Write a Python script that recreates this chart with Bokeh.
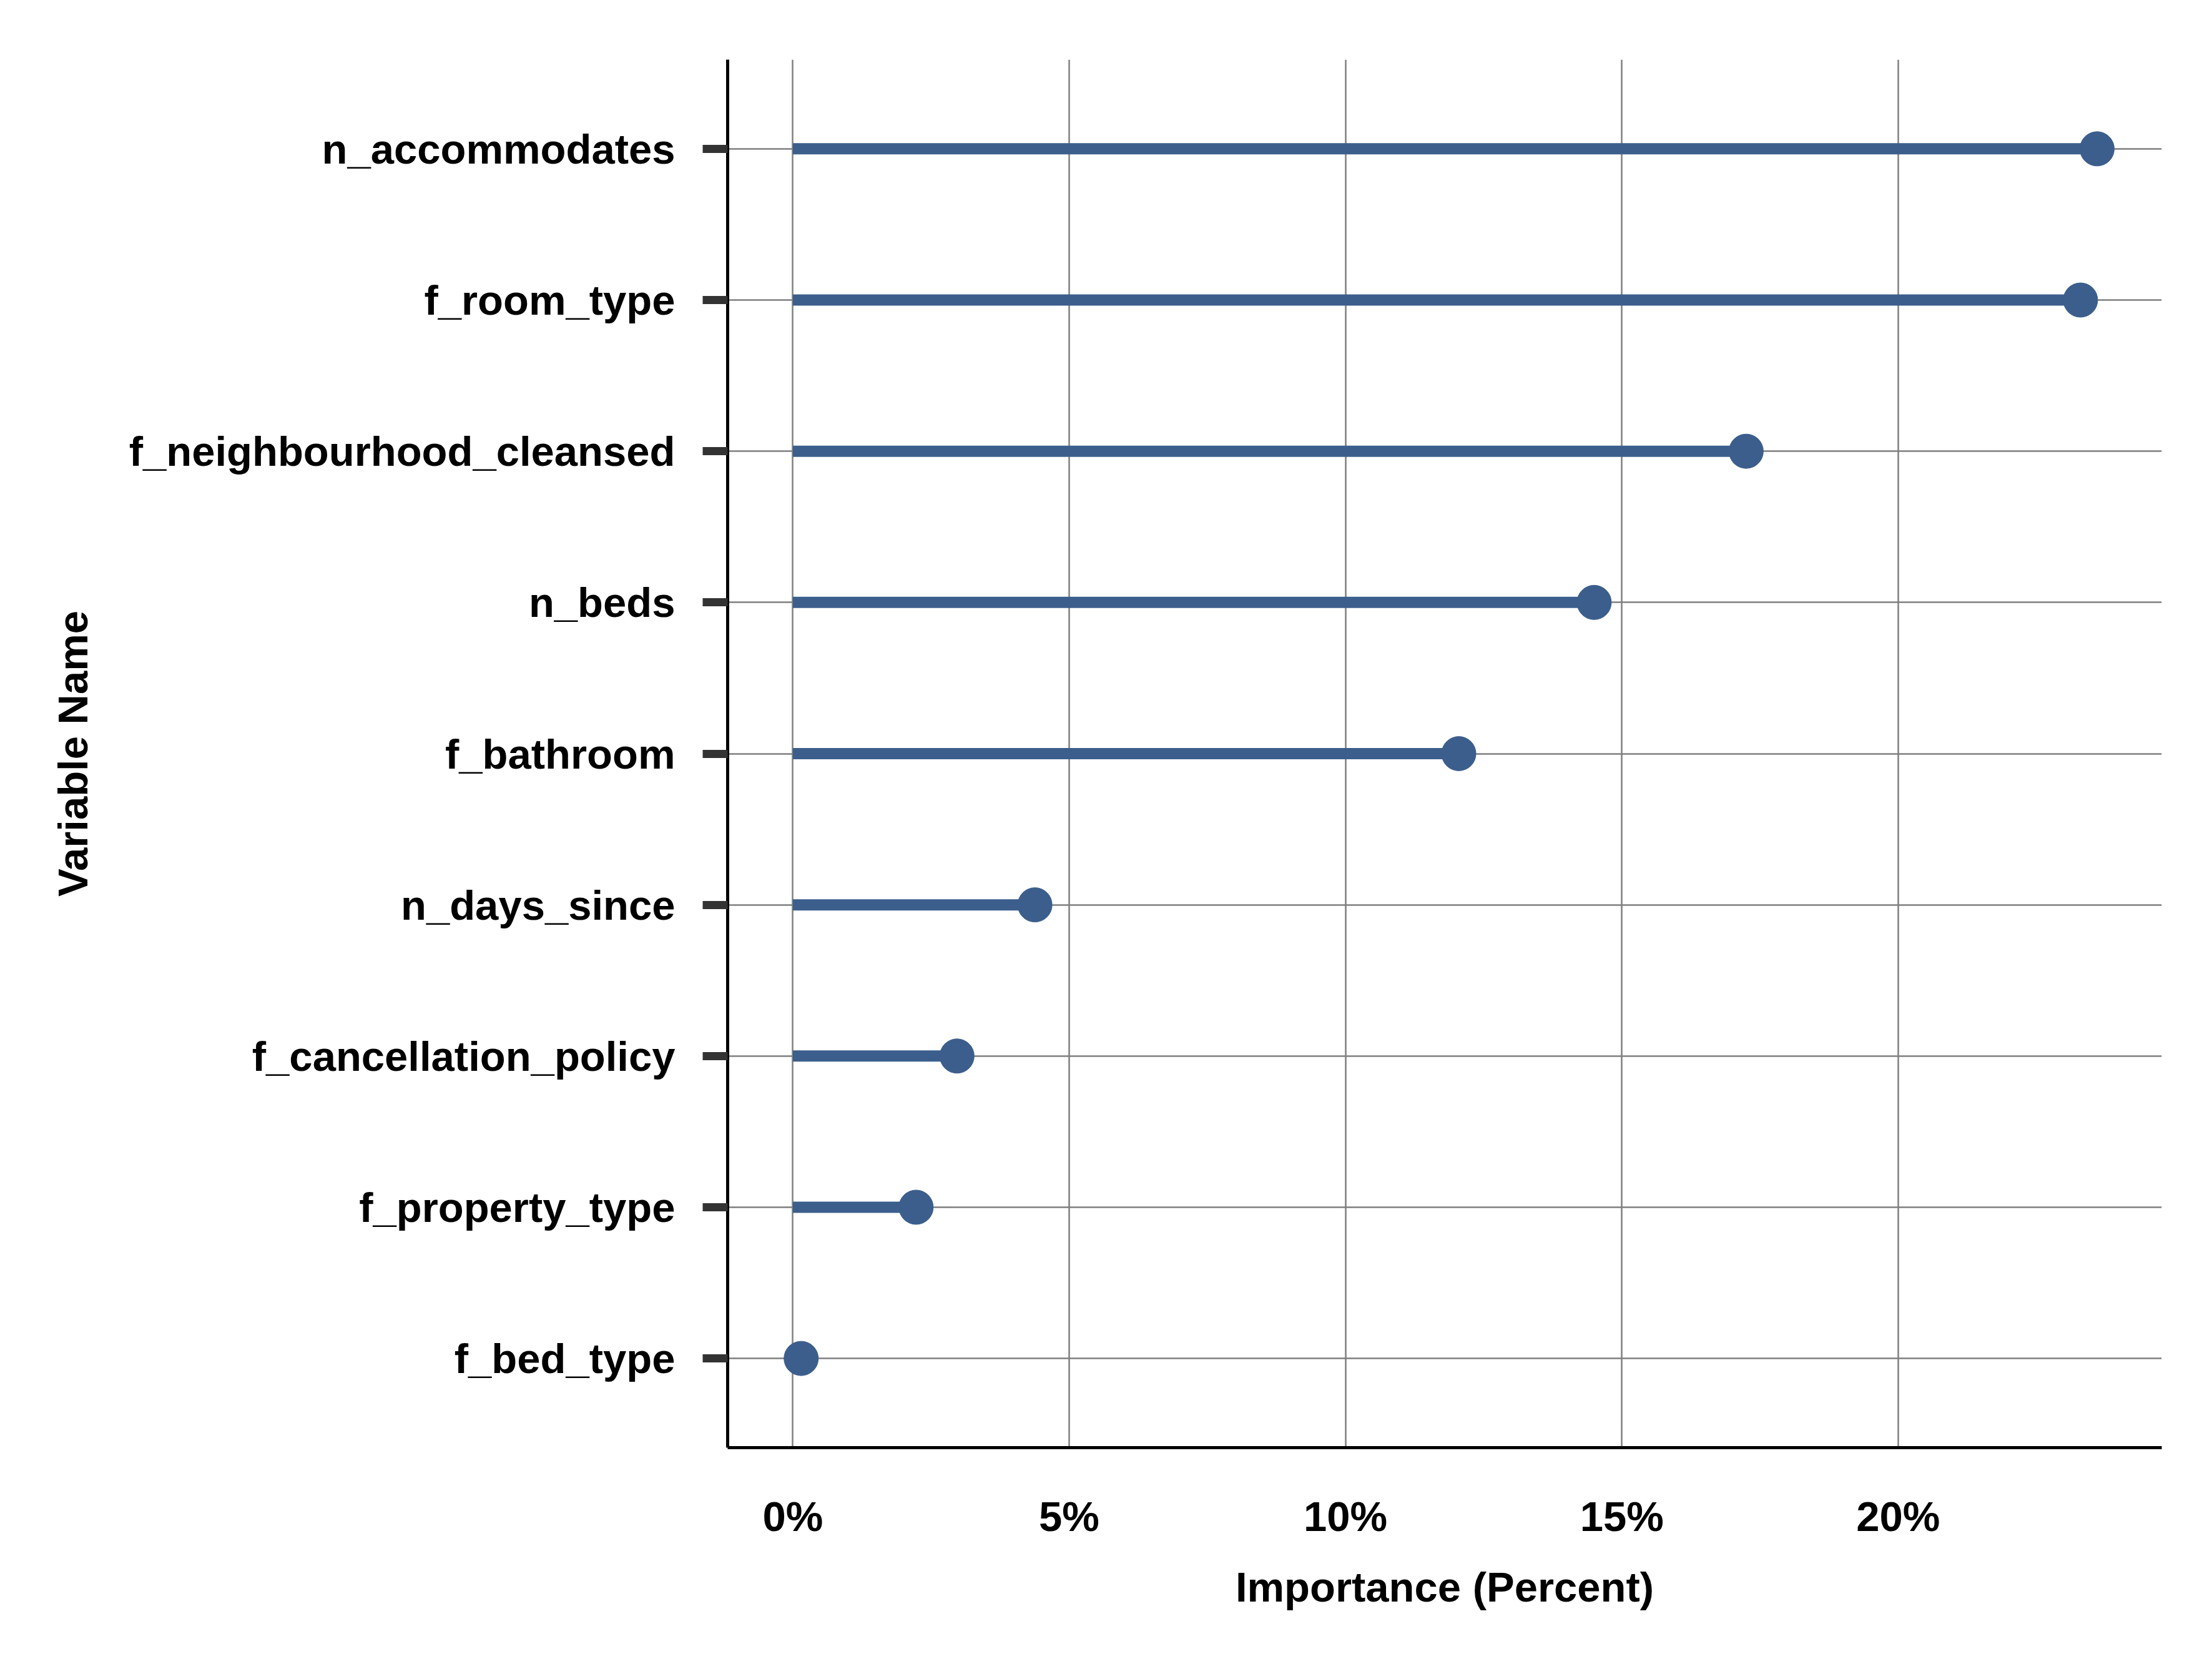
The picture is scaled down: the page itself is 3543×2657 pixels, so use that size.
from bokeh.plotting import figure
from bokeh.models import FixedTicker, Range1d, ColumnDataSource
from bokeh.embed import file_html
from bokeh.resources import INLINE

variables = ["n_accommodates", "f_room_type", "f_neighbourhood_cleansed", "n_beds",
             "f_bathroom", "n_days_since", "f_cancellation_policy", "f_property_type", "f_bed_type"]
importance = [23.6, 23.3, 17.25, 14.5, 12.05, 4.38, 2.97, 2.23, 0.15]
xticks = [0, 5, 10, 15, 20]

n = len(variables)
ypos = [n - i for i in range(n)]
src = ColumnDataSource(dict(y=ypos, x=importance, x0=[0]*n))

p = figure(width=3520, height=2640, output_backend="svg", toolbar_location=None,
           x_range=Range1d(-1.18, 24.77), y_range=Range1d(0.41, n + 0.59),
           min_border_left=1165, min_border_right=58, min_border_top=95, min_border_bottom=322)
p.outline_line_color = None
p.background_fill_color = "white"

p.segment(x0="x0", y0="y", x1="x", y1="y", source=src, line_width=18, line_color="#3b5e8c")
p.scatter(x="x", y="y", source=src, size=55, fill_color="#3b5e8c", line_color="#3b5e8c")

font = "Liberation Sans"
p.xaxis.ticker = FixedTicker(ticks=xticks)
p.xaxis.major_label_overrides = {t: f"{t}%" for t in xticks}
p.yaxis.ticker = FixedTicker(ticks=ypos)
p.yaxis.major_label_overrides = {y: v for y, v in zip(ypos, variables)}

for ax in (p.xaxis[0], p.yaxis[0]):
    ax.axis_line_color = "black"
    ax.axis_line_width = 5
    ax.minor_tick_line_color = None
    ax.major_label_text_font = font
    ax.major_label_text_font_style = "bold"
    ax.major_label_text_font_size = "67px"
    ax.major_label_text_color = "black"
    ax.axis_label_text_font = font
    ax.axis_label_text_font_style = "bold"
    ax.axis_label_text_font_size = "67px"
    ax.axis_label_text_color = "black"

p.xaxis.major_tick_line_color = None
p.xaxis.major_label_standoff = 66
p.xaxis.axis_label = "Importance (Percent)"
p.xaxis.axis_label_standoff = 35
p.yaxis.major_tick_line_color = "#333333"
p.yaxis.major_tick_line_width = 13
p.yaxis.major_tick_out = 40
p.yaxis.major_tick_in = 0
p.yaxis.major_label_standoff = 44
p.yaxis.axis_label = "Variable Name"
p.yaxis.axis_label_standoff = 50

p.xgrid.grid_line_color = "#7f7f7f"
p.ygrid.grid_line_color = "#7f7f7f"
p.xgrid.grid_line_width = 2.5
p.ygrid.grid_line_width = 2.5
p.xgrid.ticker = FixedTicker(ticks=xticks)
p.ygrid.ticker = FixedTicker(ticks=ypos)

open("out.html", "w").write(file_html(p, INLINE))
